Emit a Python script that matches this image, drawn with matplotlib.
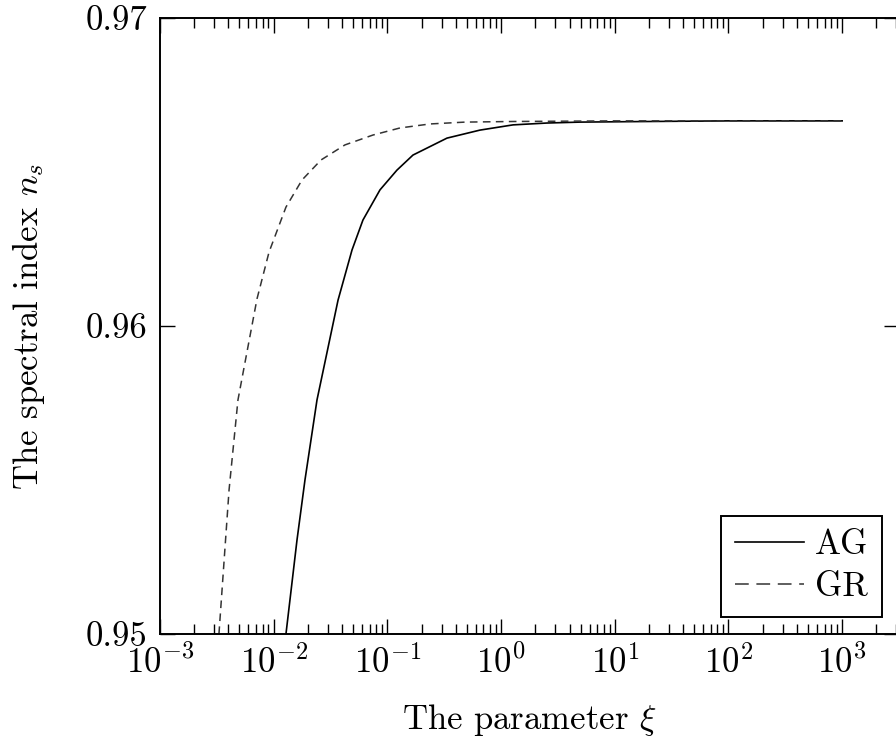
import numpy as np
import matplotlib
matplotlib.use("Agg")
import matplotlib.pyplot as plt
from matplotlib.ticker import LogLocator, NullFormatter, FixedLocator

plt.rcParams["font.family"] = "serif"
plt.rcParams["font.serif"] = ["cmr10", "DejaVu Serif"]
plt.rcParams["mathtext.fontset"] = "cm"
plt.rcParams["axes.formatter.use_mathtext"] = True

# values (xi on log axis, n_s)
xi_ag = [0.01282, 0.01603, 0.01884, 0.02404, 0.03681, 0.04887, 0.06095,
         0.08610, 0.1213, 0.1679, 0.3342, 0.6516, 1.274, 2.535, 4.943,
         20.0, 100.0, 1000.0]
ns_ag = [0.95000, 0.95305, 0.95500, 0.95760, 0.96084, 0.96247, 0.96344,
         0.96442, 0.96506, 0.96555, 0.96610, 0.96636, 0.96653, 0.96659,
         0.96662, 0.96664, 0.96666, 0.96666]

xi_gr = [0.00330, 0.00405, 0.00485, 0.00537, 0.00713, 0.00910, 0.01282,
         0.01774, 0.02606, 0.04236, 0.07464, 0.1291, 0.2371, 0.4819,
         1.274, 10.0, 100.0, 1000.0]
ns_gr = [0.95000, 0.95468, 0.95760, 0.95847, 0.96088, 0.96240, 0.96386,
         0.96474, 0.96539, 0.96588, 0.96620, 0.96643, 0.96656, 0.96662,
         0.96664, 0.96666, 0.96666, 0.96666]

fig = plt.figure(figsize=(8.96, 7.42), dpi=100)
ax = fig.add_axes([160 / 896, 1 - 634 / 742, (899 - 160) / 896, (634 - 18) / 742])

ax.plot(xi_ag, ns_ag, color="black", lw=1.2, label="AG")
ax.plot(xi_gr, ns_gr, color="#333333", lw=1.1, dashes=(5, 3.5), label="GR")

ax.set_xscale("log")
ax.set_xlim(1e-3, 10 ** 3.5)
ax.set_ylim(0.95, 0.97)
ax.xaxis.set_major_locator(FixedLocator([1e-3, 1e-2, 1e-1, 1, 10, 100, 1000]))
ax.xaxis.set_minor_locator(LogLocator(base=10, subs=np.arange(2, 10), numticks=20))
ax.xaxis.set_minor_formatter(NullFormatter())
ax.set_yticks([0.95, 0.96, 0.97])
ax.set_yticklabels(["0.95", "0.96", "0.97"])

ax.tick_params(which="both", direction="in", top=True, right=True, width=1.0)
ax.tick_params(which="major", length=11)
ax.tick_params(which="minor", length=7)
ax.tick_params(axis="y", labelsize=25, pad=9)
ax.tick_params(axis="x", labelsize=25, pad=8)
for s in ax.spines.values():
    s.set_linewidth(1.4)

ax.set_xlabel(r"The parameter $\xi$", fontsize=25, labelpad=16)
ax.set_ylabel(r"The spectral index $n_s$", fontsize=25, labelpad=28)

leg = ax.legend(loc="lower right", bbox_to_anchor=(882 / 896, 1 - 617 / 742),
                bbox_transform=fig.transFigure, borderaxespad=0, fontsize=25,
                fancybox=False, framealpha=1, edgecolor="black",
                handlelength=2.0, handletextpad=0.3, labelspacing=0.3,
                borderpad=0.4)
leg.get_frame().set_linewidth(1.4)
leg.get_lines()[1].set_dashes((9, 5))

fig.savefig("out.png", dpi=100)
